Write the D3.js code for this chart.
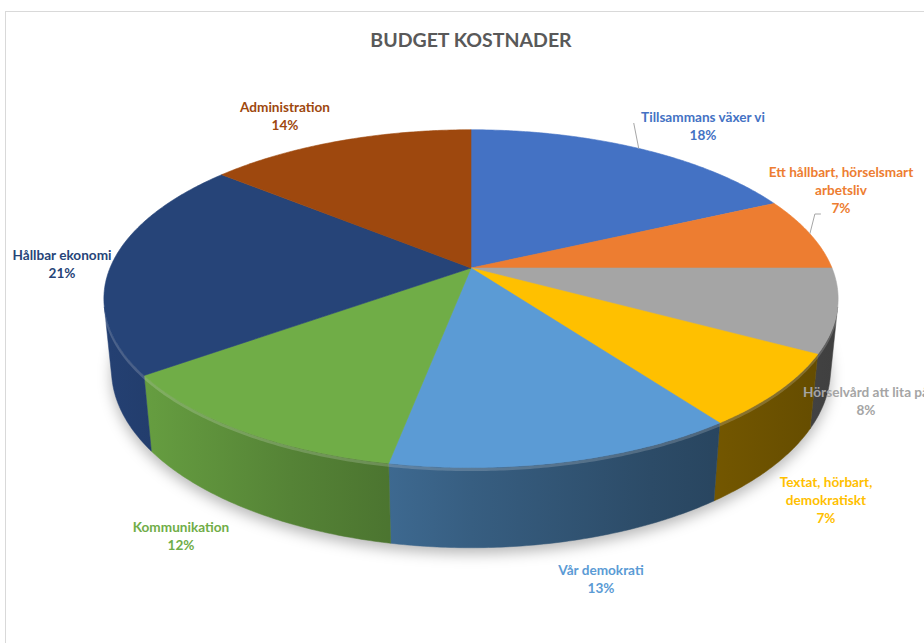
<!DOCTYPE html>
<html>
<head>
<meta charset="utf-8">
<script src="https://cdn.jsdelivr.net/npm/d3@7"></script>
<style>
  body { margin: 0; background: #fff; }
  svg { display: block; }
</style>
</head>
<body>
<svg id="chart" width="924" height="643"></svg>
<script>
// data
const categories = ["Tillsammans växer vi", "Ett hållbart, hörselsmart arbetsliv", "Hörselvård att lita på",
    "Textat, hörbart, demokratiskt", "Vår demokrati", "Kommunikation", "Hållbar ekonomi", "Administration"]
const values = [18, 7, 8, 7, 13, 12, 21, 14]
const colors = ["#4472C4", "#ED7D31", "#A5A5A5", "#FFC000", "#5B9BD5", "#70AD47", "#264478", "#9E480E"]
const labelLines = [
    ["Tillsammans växer vi"],
    ["Ett hållbart, hörselsmart", "arbetsliv"],
    ["Hörselvård att lita på"],
    ["Textat, hörbart,", "demokratiskt"],
    ["Vår demokrati"],
    ["Kommunikation"],
    ["Hållbar ekonomi"],
    ["Administration"]
]
// label anchor (centre x, first line baseline) - layout only
const labelPos = [[703, 122], [841, 177], [866, 397], [826, 487], [601, 575], [181, 532], [62, 260], [285, 112]]

const svg = d3.select("#chart")

// chart frame
svg.append("rect")
    .attr("x", 5.5).attr("y", 11.5)
    .attr("width", 960).attr("height", 700)
    .style("fill", "#fff").style("stroke", "#d9d9d9")

svg.append("text")
    .attr("x", 471).attr("y", 47)
    .attr("text-anchor", "middle")
    .style("font-family", "Lato, 'Open Sans', sans-serif")
    .style("font-weight", "bold")
    .style("font-size", "19.5px")
    .style("fill", "#595959")
    .text("BUDGET KOSTNADER")

// simple perspective projection of a tilted cylinder
const cx = 471, cy = 268, R = 361, depth = 80
const elev = 26.9 * Math.PI / 180
const sinE = Math.sin(elev), cosE = Math.cos(elev)
const D = 1773

function proj(theta, r, z) {
    const X = r * Math.sin(theta), Y = r * Math.cos(theta)
    const v = -Y * sinE - z * cosE
    const d = Y * cosE - z * sinE
    const s = D / (D + d)
    return [cx + X * s, cy + v * s]
}

function arcPts(a0, a1, r, z) {
    const n = Math.max(2, Math.ceil(Math.abs(a1 - a0) / 0.01))
    const pts = []
    for (let i = 0; i <= n; i++) pts.push(proj(a0 + (a1 - a0) * i / n, r, z))
    return pts
}

const line = d3.line()

const pie = d3.pie().sort(null).value(d => d)
const arcs = pie(values)

const defs = svg.append("defs")
defs.append("filter").attr("id", "blur")
    .attr("x", "-20%").attr("y", "-20%").attr("width", "140%").attr("height", "140%")
    .append("feGaussianBlur").attr("stdDeviation", 7)

// shadow under the pie
const shadowPts = arcPts(0, 2 * Math.PI, R, -depth).map(p => [p[0], p[1] + 6])
svg.append("path")
    .attr("d", line(shadowPts) + "Z")
    .attr("filter", "url(#blur)")
    .style("fill", "rgba(0,0,0,0.28)")

// visible part of the side wall (faces the camera)
const cosLimit = -R / (D * cosE)
const visA0 = Math.acos(cosLimit), visA1 = 2 * Math.PI - visA0

arcs.forEach((a, i) => {
    const b0 = Math.max(a.startAngle, visA0), b1 = Math.min(a.endAngle, visA1)
    if (b1 <= b0) return
    const g = defs.append("linearGradient")
        .attr("id", "side" + i)
        .attr("gradientUnits", "userSpaceOnUse")
        .attr("x1", cx - R).attr("x2", cx + R).attr("y1", 0).attr("y2", 0)
    d3.range(0, 1.01, 0.25).forEach(t => {
        g.append("stop").attr("offset", t)
            .attr("stop-color", d3.color(colors[i]).darker(0.15 + 2.5 * t))
    })
    const top = arcPts(b0, b1, R, 0)
    const bottom = arcPts(b1, b0, R, -depth)
    svg.append("path")
        .attr("d", line(top.concat(bottom)) + "Z")
        .style("fill", "url(#side" + i + ")")
        .style("stroke", "url(#side" + i + ")")
        .style("stroke-width", 0.5)
})

// rim highlight on the front edge
svg.append("path")
    .attr("d", line(arcPts(visA0, visA1, R, -2)))
    .style("fill", "none")
    .style("stroke", "rgba(255,255,255,0.18)")
    .style("stroke-width", 3)

// top faces
arcs.forEach((a, i) => {
    const pts = [proj(0, 0, 0)].concat(arcPts(a.startAngle, a.endAngle, R, 0))
    svg.append("path")
        .attr("d", line(pts) + "Z")
        .style("fill", colors[i])
        .style("stroke", colors[i])
        .style("stroke-width", 0.6)
})

// leader lines for the two crowded labels
const leaderTo = [0, 1]
leaderTo.forEach(i => {
    const a = arcs[i]
    const mid = (a.startAngle + a.endAngle) / 2
    const end = proj(mid, R, 0)
    let pts
    if (i === 0) pts = [[end[0] - 5, labelPos[i][1] + 1], end]
    else pts = [[end[0] + 11, labelPos[i][1] + 37], [end[0] + 5, labelPos[i][1] + 37], end]
    svg.append("path")
        .attr("d", line(pts))
        .style("fill", "none")
        .style("stroke", "#a6a6a6")
        .style("stroke-width", 1)
})

// data labels
arcs.forEach((a, i) => {
    const lines = labelLines[i].concat([values[i] + "%"])
    const t = svg.append("text")
        .attr("text-anchor", "middle")
        .style("font-family", "Lato, 'Open Sans', sans-serif")
        .style("font-weight", "bold")
        .style("font-size", "13.6px")
        .style("fill", colors[i])
    lines.forEach((l, k) => {
        t.append("tspan")
            .attr("x", labelPos[i][0])
            .attr("y", labelPos[i][1] + k * 18)
            .text(l)
    })
})
</script>
</body>
</html>
